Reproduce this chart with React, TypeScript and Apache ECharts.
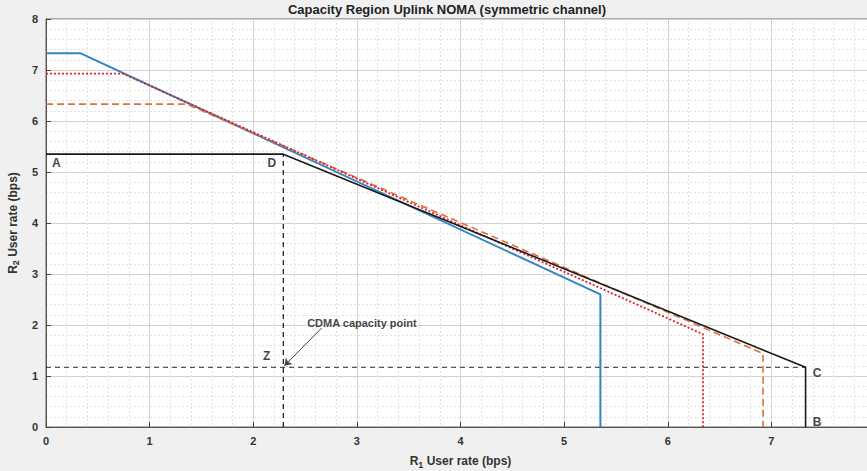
import React, { useEffect, useRef } from "react";
import * as echarts from "echarts";

const blueCurve: [number, number][] = [[0, 7.33], [0.33, 7.33], [5.35, 2.6], [5.35, 0]];
const redCurve: [number, number][] = [[0, 6.93], [0.74, 6.93], [6.34, 1.82], [6.34, 0]];
const orangeCurve: [number, number][] = [[0, 6.33], [1.36, 6.33], [6.92, 1.44], [6.92, 0]];
const blackCurve: [number, number][] = [[0, 5.35], [2.29, 5.35], [7.33, 1.17], [7.33, 0]];
const cdmaH: [number, number][] = [[0, 1.17], [7.33, 1.17]];
const cdmaV: [number, number][] = [[2.29, 0], [2.29, 5.35]];
const pointLabels: { name: string; value: [number, number] }[] = [
  { name: "A", value: [0.1, 5.18] },
  { name: "D", value: [2.18, 5.18] },
  { name: "Z", value: [2.13, 1.4] },
  { name: "C", value: [7.44, 1.06] },
  { name: "B", value: [7.44, 0.1] },
];
const noteText = "CDMA capacity point";
const notePos: [number, number] = [2.52, 2.04];
const arrowFrom: [number, number] = [2.66, 1.94];
const arrowTo: [number, number] = [2.3, 1.2];
const titleText = "Capacity Region Uplink NOMA (symmetric channel)";

export default function App() {
  const ref = useRef<HTMLDivElement>(null);
  useEffect(() => {
    if (!ref.current) return;
    const chart = echarts.init(ref.current, undefined, { renderer: "svg" });
    const font = "Liberation Sans, Arial, sans-serif";
    const axisCommon = {
      min: 0,
      max: 8,
      interval: 1,
      axisLine: { show: true, lineStyle: { color: "#555", width: 1 } },
      axisTick: { show: true, inside: true, length: 5, lineStyle: { color: "#444" } },
      axisLabel: { color: "#333", fontWeight: "bold", fontSize: 11, fontFamily: font },
      splitLine: { show: true, lineStyle: { color: "#d6d0d0", width: 1 } },
      minorTick: { show: false, splitNumber: 5 },
      minorSplitLine: { show: true, lineStyle: { color: "#e2e2e2", type: [2, 2], width: 1 } },
      nameLocation: "middle",
    };
    const nameRich = {
      a: { fontSize: 12, fontWeight: "bold", color: "#333", fontFamily: font, lineHeight: 16, verticalAlign: "middle" },
      s: { fontSize: 9, fontWeight: "bold", color: "#333", fontFamily: font, lineHeight: 9, verticalAlign: "bottom" },
    };
    chart.setOption({
      animation: false,
      backgroundColor: "#f0f0f0",
      title: {
        text: titleText,
        left: 447,
        textAlign: "center",
        top: 3,
        padding: 0,
        textStyle: { fontSize: 13, fontWeight: "bold", color: "#222", fontFamily: font },
      },
      grid: {
        left: 46,
        top: 19,
        width: 829,
        height: 408,
        outerBoundsMode: "none",
        containLabel: false,
        show: true,
        backgroundColor: "#ffffff",
        borderColor: "#666",
        borderWidth: 1,
      },
      xAxis: {
        type: "value",
        ...axisCommon,
        axisLabel: { ...axisCommon.axisLabel, margin: 8, showMaxLabel: false },
        name: "{a|R}{s|1}{a| User rate (bps)}",
        nameGap: 26,
        nameTextStyle: { rich: nameRich },
      },
      yAxis: {
        type: "value",
        ...axisCommon,
        axisLabel: { ...axisCommon.axisLabel, margin: 8 },
        name: "{a|R}{s|2}{a| User rate (bps)}",
        nameGap: 21,
        nameTextStyle: { rich: nameRich },
      },
      series: [
        {
          type: "line",
          data: cdmaH,
          symbol: "none",
          lineStyle: { color: "#333", width: 1, type: [5, 4] },
          z: 2,
        },
        {
          type: "line",
          data: cdmaV,
          symbol: "none",
          lineStyle: { color: "#111", width: 1.2, type: [5, 4] },
          z: 2,
        },
        {
          type: "line",
          data: blueCurve,
          symbol: "none",
          lineStyle: { color: "#2f86c2", width: 2 },
          z: 3,
        },
        {
          type: "line",
          data: orangeCurve,
          symbol: "none",
          lineStyle: { color: "#e0703a", width: 1.6, type: [7, 4] },
          z: 4,
        },
        {
          type: "line",
          data: redCurve,
          symbol: "none",
          lineStyle: { color: "#e0202a", width: 1.8, type: [2, 2] },
          z: 5,
        },
        {
          type: "line",
          data: blackCurve,
          symbol: "none",
          lineStyle: { color: "#1a1a1a", width: 1.6 },
          z: 6,
          markLine: {
            silent: true,
            symbol: ["none", "arrow"],
            symbolSize: 7,
            label: { show: false },
            lineStyle: { color: "#444", width: 1, type: "solid" },
            data: [[{ coord: arrowFrom }, { coord: arrowTo }]],
          },
        },
        {
          type: "scatter",
          data: pointLabels,
          symbolSize: 0,
          label: {
            show: true,
            position: "inside",
            formatter: "{b}",
            color: "#111",
            fontWeight: "bold",
            fontSize: 12,
            fontFamily: font,
          },
          z: 10,
        },
        {
          type: "scatter",
          data: [{ name: noteText, value: notePos }],
          symbolSize: 0,
          label: {
            show: true,
            position: "right",
            distance: 0,
            formatter: "{b}",
            color: "#111",
            fontWeight: "bold",
            fontSize: 11,
            fontFamily: font,
          },
          z: 10,
        },
      ],
    });
    return () => chart.dispose();
  }, []);
  return (
    <div
      ref={ref}
      style={{ position: "fixed", left: 0, top: 0, width: 867, height: 471 }}
    />
  );
}
